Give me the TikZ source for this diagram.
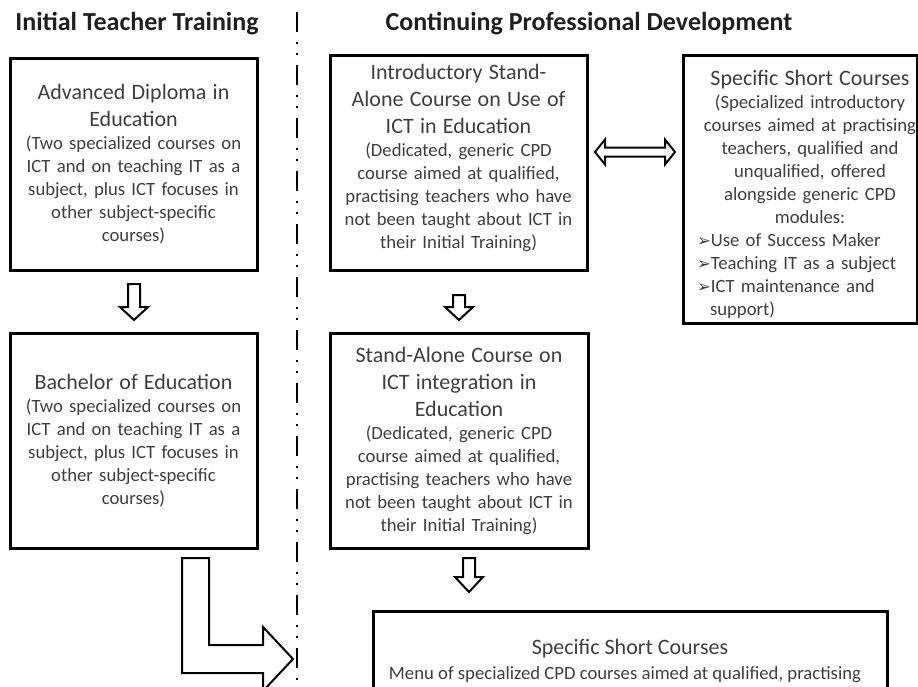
\documentclass[tikz,border=0pt]{standalone}
\usepackage{fontspec}
\setmainfont{Carlito}
\newfontfamily\dingfont{DejaVu Sans}
\usepackage{tikz}
\usetikzlibrary{calc,positioning}
\definecolor{txtgray}{RGB}{62,62,62}
\newcommand{\ttlfont}{\fontsize{22}{27}\selectfont}
\newcommand{\smlfont}{\fontsize{18.7}{23}\selectfont}
\newcommand{\hdrfont}{\fontsize{26}{30}\selectfont\bfseries}
\newcommand{\bul}{{\dingfont\fontsize{16.5}{16.5}\selectfont ➢}}
\tikzset{
	course diagram/.style={x=1pt, y=-1pt, line join=miter},
	box/.style={draw, line width=3pt, outer sep=0pt, inner sep=0pt,
		text=txtgray, align=center, font=\smlfont},
	box text/.style={text=txtgray, align=center, font=\smlfont, inner sep=0pt},
	block ar/.style={draw, line width=2pt, fill=white},
	hdr/.style={font=\hdrfont, text=black!88, anchor=base, inner sep=0pt},
	divider/.style={line width=2.5pt,
		dash pattern=on 20pt off 10pt on 2pt off 9pt on 2pt off 10pt},
	pics/down block/.style n args={2}{code={
		\draw[block ar] (-6,0) -- (6,0) -- (6,#1) -- (14,#1) -- (0,{#1+#2})
			-- (-14,#1) -- (-6,#1) -- cycle;}}
}

\begin{document}
\begin{tikzpicture}[course diagram]
  \clip (0,0) rectangle (918,686);
  % headings and divider
  \node[hdr] (itt) at (137,30) {Initial Teacher Training};
  \node[hdr] (cpd) at (589,30) {Continuing Professional Development};
  \coordinate (divtop) at (297,12);
  \coordinate (divbot) at (297,686);
  \draw[divider] (divtop) -- (divbot);

  % initial teacher training
  \node[box, minimum width=247pt, minimum height=212pt, text width=236pt] (advdip) at (133.5,164)
    {\ttlfont Advanced Diploma in\\Education\par
     \smlfont (Two specialized courses on\\ICT and on teaching IT as a\\subject, plus ICT focuses in\\other subject-specific\\courses)};
  \node[box, minimum width=247pt, minimum height=215pt, text width=236pt] (bached) at (133.5,440.5)
    {\ttlfont Bachelor of Education\par
     \smlfont (Two specialized courses on\\ICT and on teaching IT as a\\subject, plus ICT focuses in\\other subject-specific\\courses)};

  % continuing professional development
  \node[box, minimum width=257pt, minimum height=215pt] (introc) at (458.5,162.5) {};
  \node[box text, text width=246pt] (introct) at (458.5,158)
    {\ttlfont Introductory Stand-\\Alone Course on Use of\\ICT in Education\par
     \smlfont (Dedicated, generic CPD\\course aimed at qualified,\\practising teachers who have\\not been taught about ICT in\\their Initial Training)};
  \node[box, minimum width=234pt, minimum height=268pt] (shorta) at (800,189) {};
  \node[box text, text width=226pt] (shortat) at (810,194)
    {\ttlfont Specific Short Courses\par
     \smlfont (Specialized introductory\\courses aimed at practising\\teachers, qualified and\\unqualified, offered\\alongside generic CPD\\modules:\par
     {\raggedright
       \bul Use of Success Maker\\
       \bul Teaching IT as a subject\\
       \bul ICT maintenance and\\
       \hspace*{13pt}support)\par}};
  \node[box, minimum width=258pt, minimum height=215pt, text width=246pt] (standc) at (459,440.5)
    {\ttlfont Stand-Alone Course on\\ICT integration in\\Education\par
     \smlfont (Dedicated, generic CPD\\course aimed at qualified,\\practising teachers who have\\not been taught about ICT in\\their Initial Training)};
  \node[box, minimum width=514pt, minimum height=130pt, anchor=north west] (shortb) at (373,611) {};
  \node[box text, font=\ttlfont, anchor=base] (shortbt) at (630,654) {Specific Short Courses};
  \node[box text, anchor=base] (shortbm) at (625,679)
    {Menu of specialized CPD courses aimed at qualified, practising};

  % block arrows
  \pic at ($(advdip.south)+(0.5,14)$) {down block={23}{13}};
  \pic at ($(introc.south)+(0.5,25)$) {down block={12}{13}};
  \pic at ($(standc.south)+(10,10)$) {down block={19}{15}};
  \draw[block ar] ($(introc.east)+(8,-10.5)$) -- ++(10,-12.5) -- ++(0,8) -- ++(60,0) -- ++(0,-8)
        -- ++(10,12.5) -- ++(-10,12.5) -- ++(0,-8) -- ++(-60,0) -- ++(0,8) -- cycle;
  \draw[block ar] ($(bached.south)+(48.5,10)$) -- ++(27,0) -- ++(0,87) -- ++(54,0) -- ++(0,-18)
        -- ++(30,32) -- ++(-30,32) -- ++(0,-18) -- ++(-81,0) -- cycle;
\end{tikzpicture}
\end{document}
